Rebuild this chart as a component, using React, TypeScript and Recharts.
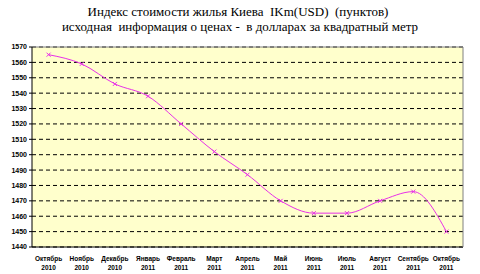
import { LineChart, Line, XAxis, YAxis, CartesianGrid, ReferenceLine } from 'recharts'

const months = ['Октябрь', 'Ноябрь', 'Декабрь', 'Январь', 'Февраль', 'Март', 'Апрель', 'Май', 'Июнь', 'Июль', 'Август', 'Сентябрь', 'Октябрь']
const years = ['2010', '2010', '2010', '2011', '2011', '2011', '2011', '2011', '2011', '2011', '2011', '2011', '2011']
const values = [1565, 1559, 1546, 1538, 1520, 1502, 1487, 1470, 1462, 1462, 1470, 1476, 1450]
const yTicks = [1440, 1450, 1460, 1470, 1480, 1490, 1500, 1510, 1520, 1530, 1540, 1550, 1560, 1570]

const data = months.map((m, i) => ({ i, month: m, year: years[i], value: values[i] }))
const labelTicks = months.map((_, i) => i)
const boundaryTicks = months.slice(1).map((_, i) => i + 0.5)

const LINE = '#E830E8'

function CrossDot(props: any) {
  const { cx, cy } = props
  if (cx == null || cy == null) return null
  const s = 2
  return (
    <g stroke={LINE} strokeWidth={1}>
      <line x1={cx - s} y1={cy - s} x2={cx + s} y2={cy + s} />
      <line x1={cx - s} y1={cy + s} x2={cx + s} y2={cy - s} />
    </g>
  )
}

function MonthTick(props: any) {
  const { x, y, payload } = props
  const d = data[payload.value]
  if (!d) return null
  return (
    <g>
      <text x={x} y={y + 6} textAnchor="middle" fontSize={6.5} fontWeight="bold" fontFamily="Liberation Sans" fill="#000">
        {d.month}
      </text>
      <text x={x} y={y + 15} textAnchor="middle" fontSize={6.5} fontWeight="bold" fontFamily="Liberation Sans" fill="#000">
        {d.year}
      </text>
    </g>
  )
}

export default function App() {
  return (
    <div style={{ position: 'absolute', left: 0, top: 0, width: 480, height: 274, background: '#fff' }}>
      <div style={{ position: 'absolute', left: 0, top: 4, width: 480, textAlign: 'center', fontFamily: 'Liberation Serif', fontSize: 13, lineHeight: '15px', color: '#000' }}>
        <div style={{ paddingRight: 4 }}>Индекс стоимости жилья Киева&nbsp; IKm(USD)&nbsp; (пунктов)</div>
        <div>исходная&nbsp; информация о ценах -&nbsp; в долларах за квадратный метр</div>
      </div>
      <LineChart width={480} height={274} data={data} margin={{ top: 47, right: 0, bottom: 0, left: 0 }}>
        <CartesianGrid vertical={false} fill="#FFFFCC" stroke="#000" strokeDasharray="4 3" />
        <XAxis
          xAxisId="lab"
          dataKey="i"
          type="number"
          domain={[-0.5, 12.5]}
          ticks={labelTicks}
          interval={0}
          tickLine={false}
          axisLine={{ stroke: '#000' }}
          tick={<MonthTick />}
          height={27}
        />
        <XAxis
          xAxisId="b"
          dataKey="i"
          type="number"
          domain={[-0.5, 12.5]}
          ticks={boundaryTicks}
          interval={0}
          tick={false}
          tickSize={3}
          tickLine={{ stroke: '#000' }}
          axisLine={false}
          height={0}
        />
        <YAxis
          domain={[1440, 1570]}
          ticks={yTicks}
          interval={0}
          width={32}
          tickSize={3}
          tickLine={{ stroke: '#000' }}
          axisLine={{ stroke: '#000' }}
          tick={{ fontSize: 7, fontWeight: 'bold', fontFamily: 'Liberation Sans', fill: '#000' }}
        />
        <YAxis yAxisId="r" orientation="right" width={17} tick={false} tickLine={false} axisLine={{ stroke: '#808080' }} />
        <ReferenceLine xAxisId="lab" y={1570} stroke="#808080" />
        <Line
          xAxisId="lab"
          type="monotone"
          dataKey="value"
          stroke={LINE}
          strokeWidth={1}
          dot={<CrossDot />}
          activeDot={false}
          isAnimationActive={false}
        />
      </LineChart>
    </div>
  )
}
